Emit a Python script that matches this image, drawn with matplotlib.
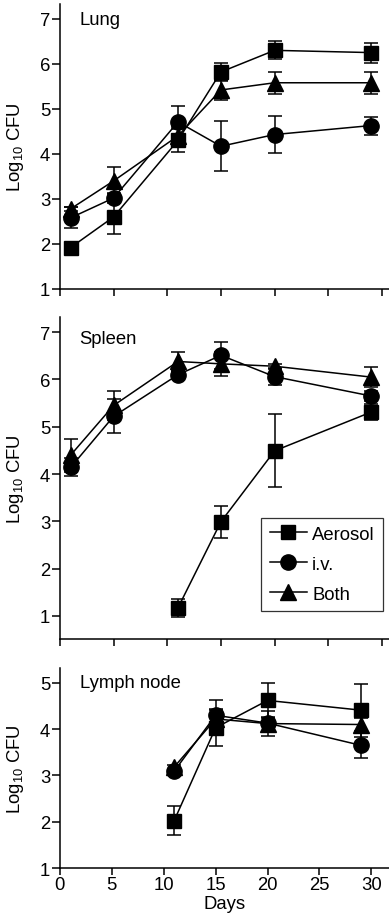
import matplotlib.pyplot as plt
from matplotlib.lines import Line2D

plt.rcParams['font.family'] = ['Liberation Sans', 'DejaVu Sans']

days = [1, 5, 11, 15, 20, 29]
days_late = [11, 15, 20, 29]

# Lung
lung_aer = [1.92, 2.60, 4.30, 5.82, 6.30, 6.25]
lung_aer_err = [0.05, 0.38, 0.25, 0.20, 0.20, 0.22]
lung_iv = [2.58, 3.02, 4.71, 4.17, 4.43, 4.63]
lung_iv_err = [0.23, 0.12, 0.36, 0.55, 0.42, 0.20]
lung_both = [2.78, 3.40, 4.40, 5.42, 5.58, 5.58]
lung_both_err = [0.05, 0.30, 0.20, 0.22, 0.24, 0.24]

# Spleen
spl_aer = [1.17, 2.99, 4.49, 5.31]
spl_aer_err = [0.19, 0.34, 0.77, 0.17]
spl_iv = [4.14, 5.22, 6.10, 6.51, 6.06, 5.65]
spl_iv_err = [0.19, 0.36, 0.08, 0.28, 0.18, 0.10]
spl_both = [4.40, 5.45, 6.38, 6.33, 6.28, 6.05]
spl_both_err = [0.35, 0.30, 0.21, 0.26, 0.05, 0.22]

# Lymph node
lym_aer = [2.02, 4.03, 4.62, 4.41]
lym_aer_err = [0.31, 0.40, 0.38, 0.57]
lym_iv = [3.09, 4.30, 4.13, 3.65]
lym_iv_err = [0.05, 0.33, 0.27, 0.28]
lym_both = [3.18, 4.22, 4.12, 4.10]
lym_both_err = [0.05, 0.20, 0.15, 0.15]

legend_labels = ['Aerosol', 'i.v.', 'Both']
markers = ['s', 'o', '^']
sizes = [10, 11, 11]

FS = 13.3
LW = 1.1

fig = plt.figure(figsize=(3.89, 9.2), dpi=100)
ax1 = fig.add_axes([0.154, 0.6848, 0.846, 0.3098])
ax2 = fig.add_axes([0.154, 0.3043, 0.846, 0.35])
ax3 = fig.add_axes([0.154, 0.0554, 0.846, 0.2174])


def series(ax, x, y, err, i):
    ax.errorbar(x, y, yerr=err, color='k', marker=markers[i], ms=sizes[i],
                lw=LW, elinewidth=LW, capsize=5, capthick=LW)


def style(ax, xmax, ylim, yticks, title, ty, xlabels):
    ax.set_xlim(0, xmax)
    ax.set_ylim(*ylim)
    ax.set_yticks(yticks)
    ax.set_xticks(range(0, 31, 5))
    if not xlabels:
        ax.set_xticklabels([])
    for s in ['top', 'right']:
        ax.spines[s].set_visible(False)
    for s in ['left', 'bottom']:
        ax.spines[s].set_linewidth(LW)
    ax.tick_params(axis='y', length=6, width=LW, labelsize=FS, pad=1)
    ax.tick_params(axis='x', length=5, width=LW, labelsize=FS, pad=1)
    ax.set_ylabel('Log$_{\\mathregular{10}}$ CFU', fontsize=FS)
    ax.yaxis.set_label_coords(-0.103, 0.5)
    ax.text(0.06, ty, title, transform=ax.transAxes, fontsize=FS,
            va='top', ha='left')


for i, (y, e) in enumerate([(lung_aer, lung_aer_err), (lung_iv, lung_iv_err),
                            (lung_both, lung_both_err)]):
    series(ax1, days, y, e, i)
style(ax1, 30.66, (1, 7.33), range(1, 8), 'Lung', 0.975, False)

series(ax2, days_late, spl_aer, spl_aer_err, 0)
series(ax2, days, spl_iv, spl_iv_err, 1)
series(ax2, days, spl_both, spl_both_err, 2)
style(ax2, 30.66, (0.51, 7.32), range(1, 8), 'Spleen', 0.96, False)
handles = [Line2D([], [], color='k', lw=LW, marker=m, ms=s)
           for m, s in zip(markers, sizes)]
leg = ax2.legend(handles, legend_labels, loc='lower right',
                 bbox_to_anchor=(0.982, 0.087), fontsize=FS, frameon=True,
                 fancybox=False, handlelength=2.0, handletextpad=0.3,
                 borderpad=0.45, labelspacing=0.7, borderaxespad=0)
leg.get_frame().set_edgecolor('k')
leg.get_frame().set_linewidth(0.9)

for i, (y, e) in enumerate([(lym_aer, lym_aer_err), (lym_iv, lym_iv_err),
                            (lym_both, lym_both_err)]):
    series(ax3, days_late, y, e, i)
style(ax3, 31.7, (1, 5.32), range(1, 6), 'Lymph node', 0.97, True)
ax3.set_xlabel('Days', fontsize=FS, labelpad=1)

fig.savefig('out.png', dpi=100)
